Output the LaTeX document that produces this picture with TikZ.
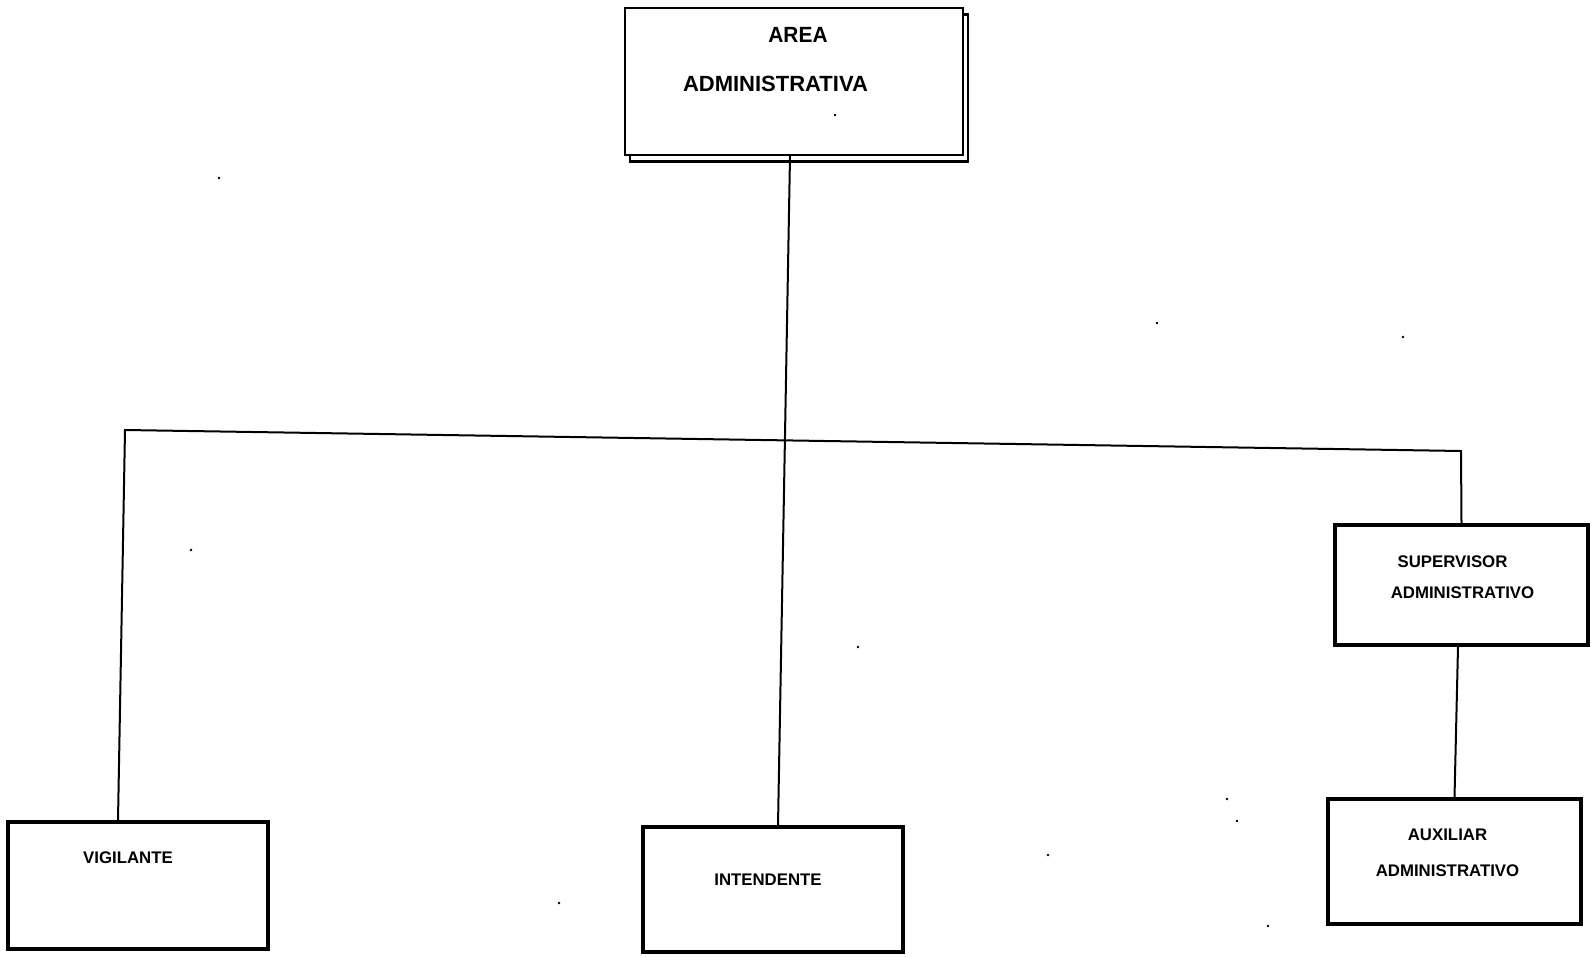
\documentclass[tikz,border=0pt]{standalone}
\usepackage{fontspec}
\usepackage{graphicx}
\setmainfont{Liberation Sans}
\begin{document}
\begin{tikzpicture}[x=0.5pt,y=-0.5pt,
  box/.style={draw=black,line width=1.6pt,fill=white,inner sep=0pt},
  topbox/.style={draw=black,line width=1.1pt,fill=white,inner sep=0pt,minimum width=169pt,minimum height=73.5pt},
  conn/.style={draw=black,line width=1pt},
  bigtxt/.style={font=\bfseries\fontsize{11}{13}\selectfont,inner sep=0pt},
  smalltxt/.style={font=\bfseries\fontsize{8.4}{10}\selectfont,inner sep=0pt},
  speck/.style={fill=black,draw=none}]
\useasboundingbox (0,0) rectangle (1590,957);
\fill[white] (0,0) rectangle (1590,957);

% top box with its double (shadow) border
\node[topbox,fill=none] (topshadow) at (799,88) {};
\node[topbox] (top) at (794,81.5) {};
\node[bigtxt] (t1) at (798,35) {\scalebox{0.95}[1]{AREA}};
\node[bigtxt] (t2) at (775.5,83.5) {\scalebox{1.0}[1]{ADMINISTRATIVA}};

% lower boxes
\node[box,minimum width=126.5pt,minimum height=60pt] (sup) at (1461.5,585) {};
\node[smalltxt] (s1) at (1452.5,562) {SUPERVISOR};
\node[smalltxt] (s2) at (1462.5,593) {ADMINISTRATIVO};

\node[box,minimum width=126.5pt,minimum height=62.5pt] (aux) at (1454.5,861.5) {};
\node[smalltxt] (a1) at (1447.5,835) {AUXILIAR};
\node[smalltxt] (a2) at (1447.5,871) {ADMINISTRATIVO};

\node[box,minimum width=130pt,minimum height=63.5pt] (vig) at (138,885.5) {};
\node[smalltxt] (v1) at (128,857.5) {VIGILANTE};

\node[box,minimum width=130pt,minimum height=62.5pt] (int) at (773,889.5) {};
\node[smalltxt] (i1) at (768,880) {INTENDENTE};

% junctions of the horizontal bar
\coordinate (jl) at (125,430);
\coordinate (jr) at (1461,451);

% connectors
\draw[conn] ([xshift=-2pt]top.south) -- ([xshift=2.5pt]int.north);
\draw[conn] ([xshift=-10pt]vig.north) -- (jl) -- (jr) -- (sup.north);
\draw[conn] ([xshift=-1.75pt]sup.south) -- (aux.north);

% scan specks
\foreach \p in {(219,178),(1157,323),(1403,337),(191,550),(858,647),(1227,799),(1237,821),(1048,855),(559,903),(1268,926),(835,115)}
  \fill[speck] \p circle (1.3);
\end{tikzpicture}
\end{document}
